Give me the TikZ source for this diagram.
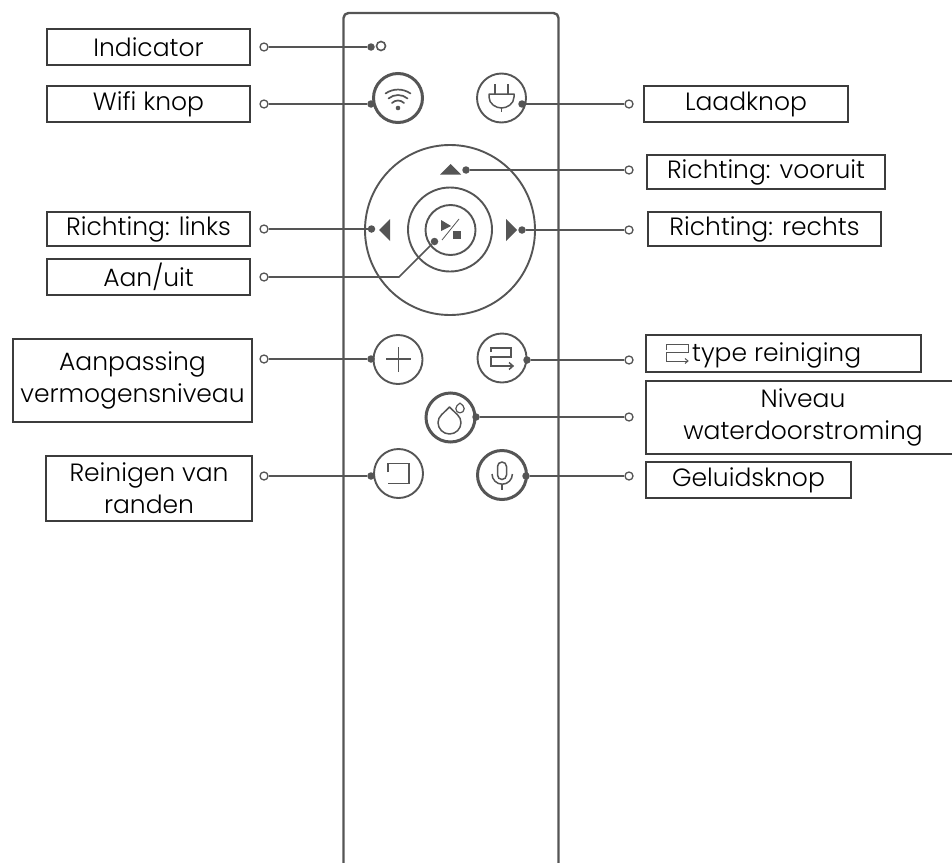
\documentclass[tikz,border=0pt]{standalone}
\usepackage{fontspec}
\setmainfont{Poppins}[UprightFont=* Light]
\definecolor{ink}{HTML}{555555}
\definecolor{boxink}{HTML}{3C3C3C}
\tikzset{
  lbl/.style={draw=boxink,line width=1.8pt,minimum height=0pt,inner sep=0pt,text=black,align=center,font=\fontsize{25}{32}\selectfont,anchor=center},
  opn/.style={circle,draw=ink,fill=white,line width=1.3pt,minimum size=8pt,inner sep=0pt},
  dotp/.style={circle,fill=ink,minimum size=7.5pt,inner sep=0pt},
  lead/.style={draw=ink,line width=1.6pt},
  btn/.style={circle,draw=ink,line width=1.9pt,minimum size=49pt,inner sep=0pt},
  btnb/.style={btn,line width=3pt},
  ico/.style={draw=ink,line width=1.5pt},
  icf/.style={fill=ink,draw=none}
}
\newcommand{\lblbox}[6]{\node[lbl,minimum width=#4pt-#2pt,minimum height=#5pt-#3pt] (#1) at ({(#2+#4)/2},{(#3+#5)/2}) {#6};}
\begin{document}
\begin{tikzpicture}[x=1pt,y=-1pt]
\useasboundingbox (0,0) rectangle (952,862);
% remote body
\draw[ink,line width=2.4pt,line join=round] (343.5,870) -- (343.5,18) arc[start angle=180,end angle=270,radius=5] -- (553.5,13) arc[start angle=270,end angle=360,radius=5] -- (558.5,870);
% labels
\lblbox{a}{47}{29}{250}{65}{Indicator}
\lblbox{b}{47}{86}{250}{122}{Wifi knop}
\lblbox{c}{47}{212}{250}{246}{Richting: links}
\lblbox{d}{47}{259}{250}{295}{Aan/uit}
\lblbox{e}{13}{339}{252}{422}{Aanpassing\\vermogensniveau}
\lblbox{f}{46}{456}{252}{521}{Reinigen van\\randen}
\lblbox{g}{644}{86}{848}{122}{Laadknop}
\lblbox{h}{647}{155}{885}{189}{Richting: vooruit}
\lblbox{i}{648}{212}{881}{246}{Richting: rechts}
\lblbox{j}{646}{335}{921}{372}{}
\lblbox{k}{646}{381}{960}{454}{Niveau\\waterdoorstroming}
\lblbox{l}{646}{462}{851}{498}{Geluidsknop}
\node[font=\fontsize{25}{32}\selectfont,anchor=base west,inner sep=0pt] (jt) at (692,361) {type reiniging};
\draw[draw=ink,line width=1pt] (666,350) -- (666,344) -- (688,344) -- (688,352) -- (666,352) -- (666,361) -- (688,361);
\draw[draw=ink,line width=1pt] (685,358.5) -- (688,361) -- (685,363.5);
% buttons
\node[btnb] (wifi) at (398,98) {};
\node[btn] (plug) at (501.5,98) {};
\node[btn,minimum size=170pt] (ring) at (450,230) {};
\node[btn,minimum size=84pt] (mid) at (450,229.5) {};
\node[btn,minimum size=50pt] (inn) at (450.5,230) {};
\node[btn] (plus) at (398,359.5) {};
\node[btn] (type) at (502,358) {};
\node[btnb] (drop) at (450.5,417.5) {};
\node[btn] (edge) at (398.5,473.5) {};
\node[btnb] (mic) at (502,475) {};
\node[circle,draw=ink,line width=1.6pt,minimum size=9pt,inner sep=0pt] (led) at (381,46) {};
% wifi icon
\fill[ink] (398,108) circle (2.3);
\draw[ico,line width=1.7pt,line cap=round] (392,103) arc[start angle=-135,end angle=-45,radius=8.5];
\draw[ico,line width=1.7pt,line cap=round] (388.5,98.5) arc[start angle=-130,end angle=-50,radius=14.8];
\draw[ico,line width=1.7pt,line cap=round] (385.5,93.5) arc[start angle=-125,end angle=-55,radius=21.8];
% plug icon
\draw[ico,line join=round] (489,94) -- (514,94) -- (514,97) .. controls (514,104) and (507,108) .. (501.5,108) .. controls (496,108) and (489,104) .. (489,97) -- cycle;
\draw[ico] (495,84) -- (495,94) (508,84) -- (508,94) (501.5,108) -- (501.5,112);
% arrows
\fill[ink] (440,174.5) -- (450.5,164) -- (461,174.5) -- cycle;
\fill[ink] (390,219) -- (390,241) -- (379,230) -- cycle;
\fill[ink] (506,219) -- (506,241) -- (517,230) -- cycle;
% play / stop
\fill[ink] (441,220) -- (451,226) -- (441,231) -- cycle;
\fill[ink] (453,231) rectangle (461,239);
\draw[ink,line width=.8pt] (459,219) -- (442,240);
% plus
\draw[ico] (386,359) -- (411,359) (398.5,347) -- (398.5,372);
% type icon
\draw[ico,line width=1.8pt] (491,352) -- (491,348) -- (511,348) -- (511,357) -- (491,357) -- (491,366) -- (512,366);
\draw[ico] (509,362.5) -- (513,366) -- (509,369.5);
% drop icon
\draw[ico,line join=round] (449.5,407) .. controls (444,413) and (438,416) .. (438,422.5) arc[start angle=180,end angle=0,radius=11.5] .. controls (461,416) and (455,413) .. (449.5,407) -- cycle;
\draw[ico,line width=1.2pt,line join=round] (460,403) .. controls (457.5,405) and (455.8,406.5) .. (455.8,408.7) arc[start angle=180,end angle=0,radius=4.2] .. controls (464.2,406.5) and (462.5,405) .. (460,403) -- cycle;
% edge icon
\draw[ico,line width=1.8pt] (388,472) -- (388,463.5) -- (409,463.5) -- (409,483.5) -- (388,483.5);
% mic icon
\draw[ico] (497.5,466.5) arc[start angle=180,end angle=360,radius=4.5] -- (506.5,475) arc[start angle=0,end angle=180,radius=4.5] -- cycle;
\draw[ico] (492,474) arc[start angle=180,end angle=0,radius=10.2];
\draw[ico] (502,484.5) -- (502,490);
% leader ends
\node[opn] (oa) at (264,47) {};
\node[opn] (ob) at (264,104) {};
\node[opn] (oc) at (264,229) {};
\node[opn] (od) at (264,277) {};
\node[opn] (oe) at (264,359) {};
\node[opn] (of) at (264,476) {};
\node[opn] (og) at (629,104) {};
\node[opn] (oh) at (629,170) {};
\node[opn] (oi) at (629,230) {};
\node[opn] (oj) at (629,360) {};
\node[opn] (ok) at (629,417) {};
\node[opn] (ol) at (629,476) {};
\node[dotp] (da) at (371,47) {};
\node[dotp] (db) at (371,104) {};
\node[dotp] (dc) at (371.5,229) {};
\node[dotp] (dd) at (434.5,241.5) {};
\node[dotp] (de) at (371,359) {};
\node[dotp] (df) at (371,476) {};
\node[dotp] (dg) at (522,104) {};
\node[dotp] (dh) at (466,170) {};
\node[dotp] (di) at (522,230) {};
\node[dotp] (dj) at (527,360) {};
\node[dotp] (dk) at (476,417) {};
\node[dotp] (dl) at (526,476) {};
\coordinate (bend) at (399,277);
\draw[lead] (oa) -- (da);
\draw[lead] (ob) -- (db);
\draw[lead] (oc) -- (dc);
\draw[lead] (od) -- (bend) -- (dd);
\draw[lead] (oe) -- (de);
\draw[lead] (of) -- (df);
\draw[lead] (og) -- (dg);
\draw[lead] (oh) -- (dh);
\draw[lead] (oi) -- (di);
\draw[lead] (oj) -- (dj);
\draw[lead] (ok) -- (dk);
\draw[lead] (ol) -- (dl);
\end{tikzpicture}
\end{document}
